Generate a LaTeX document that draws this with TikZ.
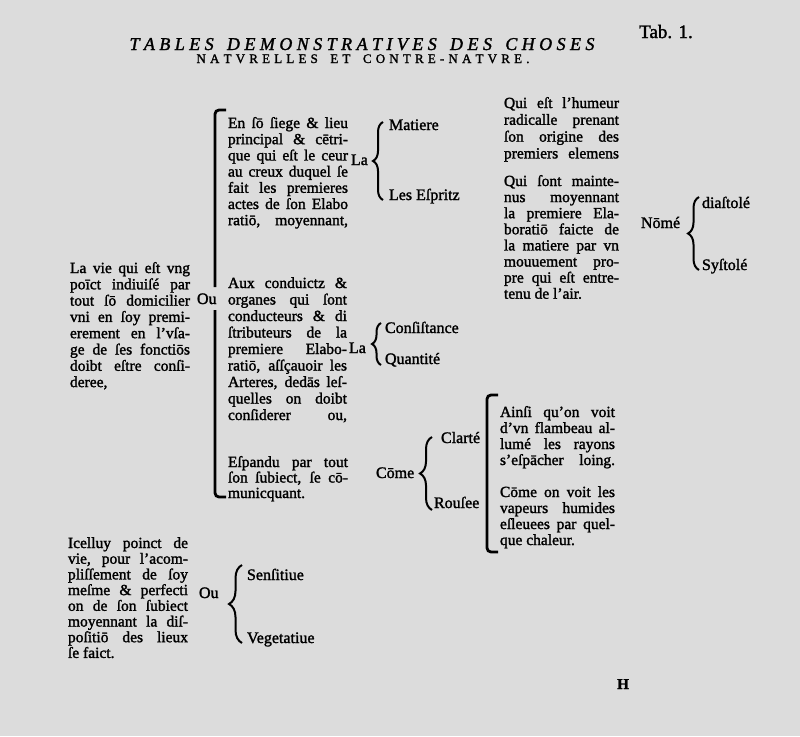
\documentclass[tikz,border=0pt]{standalone}
\usepackage{fontspec}
\setmainfont{Liberation Serif}[FakeBold=1.6]
\usetikzlibrary{decorations.pathreplacing}
\definecolor{paper}{RGB}{220,220,220}
\newcommand{\J}[1]{\makebox[\linewidth][s]{#1}}
\newcommand{\blockof}[3]{\parbox[t]{#1}{\fontsize{15.5}{#2}\selectfont\noindent #3}}
\newcommand{\lsp}{\hfill}
\begin{document}
\begin{tikzpicture}[x=1pt,y=-1pt,
  txt/.style={anchor=base west, inner sep=0pt, outer sep=0pt},
  lbl/.style={anchor=base west, inner sep=0pt, outer sep=0pt, font=\fontsize{16}{16}\selectfont},
  brc/.style={decorate, decoration={brace, amplitude=#1}, line width=2pt},
  brk/.style={line width=2.8pt, rounded corners=4pt}]
\fill[paper] (0,0) rectangle (800,736);
\useasboundingbox (0,0) rectangle (800,736);
% title
\node[anchor=base, inner sep=0pt] (t1) at (362,50) {\fontsize{18}{18}\selectfont\itshape\hbox to 465pt{T\lsp A\lsp B\lsp L\lsp E\lsp S\lsp\lsp\lsp D\lsp E\lsp M\lsp O\lsp N\lsp S\lsp T\lsp R\lsp A\lsp T\lsp I\lsp V\lsp E\lsp S\lsp\lsp\lsp D\lsp E\lsp S\lsp\lsp\lsp C\lsp H\lsp O\lsp S\lsp E\lsp S}};
\node[anchor=base, inner sep=0pt] (t2) at (363,63) {\fontsize{13}{13}\selectfont\hbox to 333pt{N\lsp A\lsp T\lsp V\lsp R\lsp E\lsp L\lsp L\lsp E\lsp S\lsp\lsp\lsp E\lsp T\lsp\lsp\lsp C\lsp O\lsp N\lsp T\lsp R\lsp E\lsp -\lsp N\lsp A\lsp T\lsp V\lsp R\lsp E\lsp .}};
\node[anchor=base west, inner sep=0pt] (tab) at (639,38) {\fontsize{19}{19}\selectfont Tab. 1.};
% left text
\node[txt] (vie) at (70,273) {\blockof{120pt}{16.3}{%
\J{La vie qui eſt vng}\\
\J{poīct indiuiſé par}\\
\J{tout ſō domicilier}\\
\J{vni en ſoy premi-}\\
\J{erement en l'vſa-}\\
\J{ge de ſes fonctiōs}\\
\J{doibt eſtre conſi-}\\
deree,}};
\node[lbl] (ou1) at (197,304) {Ou};
\draw[brk] (226,110) -- (215,110) -- (215,287);
\draw[brk] (215,310) -- (215,497) -- (226,497);
\node[txt] (en) at (228,128) {\blockof{120pt}{16.2}{%
\J{En ſō ſiege \& lieu}\\
\J{principal \& cētri-}\\
\J{que qui eſt le ceur}\\
\J{au creux duquel ſe}\\
\J{fait les premieres}\\
\J{actes de ſon Elabo}\\
\J{ratiō, moyennant,}}};
\node[txt] (aux) at (228,288) {\blockof{119pt}{16.5}{%
\J{Aux conduictz \&}\\
\J{organes qui ſont}\\
\J{conducteurs \& di}\\
\J{ſtributeurs de la}\\
\J{premiere Elabo-}\\
\J{ratiō, aſſçauoir les}\\
\J{Arteres, dedās leſ-}\\
\J{quelles on doibt}\\
\J{conſiderer ou,}}};
\node[txt] (esp) at (228,467) {\blockof{120pt}{15.5}{%
\J{Eſpandu par tout}\\
\J{ſon ſubiect, ſe cō-}\\
municquant.}};
% La braces
\node[lbl] (la1) at (351,165) {La};
\draw[brc=10pt] (383,200) -- (383,122);
\node[lbl] (mat) at (389,130) {Matiere};
\node[lbl] (esprit) at (389,200) {Les Eſpritz};
\node[lbl] (la2) at (349,353) {La};
\draw[brc=9pt] (381,365) -- (381,323);
\node[lbl] (cons) at (385,333) {Conſiſtance};
\node[lbl] (quan) at (385,364) {Quantité};
% right text
\node[txt] (qui1) at (504,108) {\blockof{115pt}{16.8}{%
\J{Qui eſt l'humeur}\\
\J{radicalle prenant}\\
\J{ſon origine des}\\
\J{premiers elemens}}};
\node[txt] (qui2) at (504,186) {\blockof{115pt}{16.1}{%
\J{Qui ſont mainte-}\\
\J{nus moyennant}\\
\J{la premiere Ela-}\\
\J{boratiō faicte de}\\
\J{la matiere par vn}\\
\J{mouuement pro-}\\
\J{pre qui eſt entre-}\\
tenu de l'air.}};
\node[lbl] (nome) at (641,228) {Nōmé};
\draw[brc=11pt] (699,270) -- (699,197);
\node[lbl] (dia) at (702,208) {diaſtolé};
\node[lbl] (sys) at (702,270) {Syſtolé};
% Come
\node[lbl] (come) at (376,478) {Cōme};
\draw[brc=12pt] (432,510) -- (432,437);
\node[lbl] (clar) at (441,443) {Clarté};
\node[lbl] (rous) at (434,508) {Rouſee};
\draw[brk] (498,395) -- (487,395) -- (487,552) -- (498,552);
\node[txt] (ain1) at (500,417) {\blockof{115pt}{16}{%
\J{Ainſi qu'on voit}\\
\J{d'vn flambeau al-}\\
\J{lumé les rayons}\\
\J{s'eſpācher loing.}}};
\node[txt] (ain2) at (500,497) {\blockof{115pt}{16}{%
\J{Cōme on voit les}\\
\J{vapeurs humides}\\
\J{eſleuees par quel-}\\
que chaleur.}};
% bottom left
\node[txt] (ice) at (68,548) {\blockof{120pt}{15.7}{%
\J{Icelluy poinct de}\\
\J{vie, pour l'acom-}\\
\J{pliſſement de ſoy}\\
\J{meſme \& perfecti}\\
\J{on de ſon ſubiect}\\
\J{moyennant la diſ-}\\
\J{poſitiō des lieux}\\
ſe faict.}};
\node[lbl] (ou2) at (199,598) {Ou};
\draw[brc=13pt] (242,643) -- (242,565);
\node[lbl] (sen) at (247,580) {Senſitiue};
\node[lbl] (veg) at (247,643) {Vegetatiue};
\node[anchor=base west, inner sep=0pt] (sig) at (617,689) {\fontsize{15}{15}\selectfont\bfseries H};
\end{tikzpicture}
\end{document}
